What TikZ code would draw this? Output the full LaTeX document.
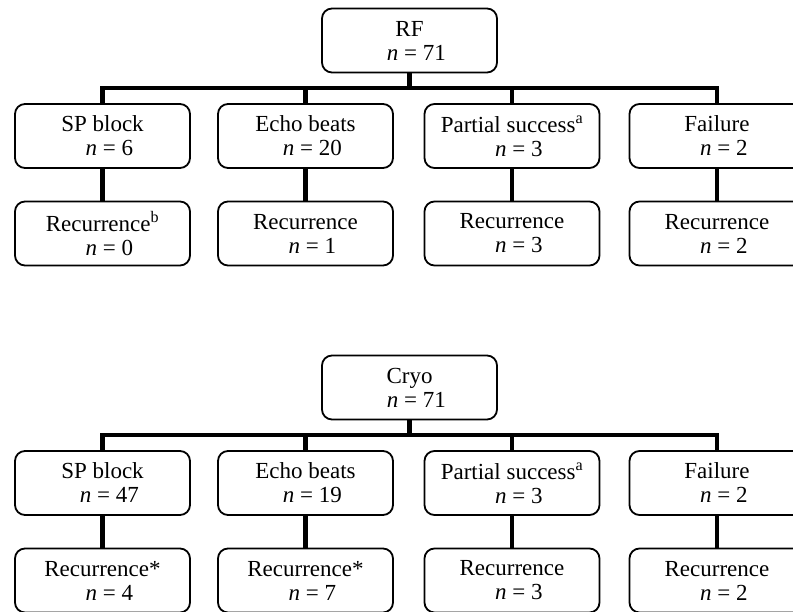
\documentclass[tikz,border=0pt]{standalone}
\usepackage{fontspec}
\setmainfont{Liberation Serif}

\tikzset{
  caja/.style={draw, rounded corners=10pt, line width=1.8pt, minimum width=175pt,
    minimum height=64pt, inner sep=0pt, align=center, font=\fontsize{23}{24}\selectfont},
  rama/.style={line width=4.5pt}
}
\newcommand{\nval}[1]{\hspace*{0.6em}{\itshape n}~=~#1}
% one tree: prefix, vertical offset, root label, children
\newcommand{\arbol}[4]{%
  \begin{scope}[shift={(0,#2)}]
    \node[caja] (#1) at (409.5,40.5) {#3\\\nval{71}};
    \coordinate (#1barra) at (409.5,88);
    \foreach \i/\x/\tipo/\nt/\rec/\nr in {#4} {
      \node[caja] (#1\i) at (\x,136) {\tipo\\\nval{\nt}};
      \node[caja] (#1r\i) at (\x,233.5) {\rec\\\nval{\nr}};
      \draw[rama] (#1\i.north) -- (#1\i.north |- #1barra);
      \draw[rama] (#1\i.south) -- (#1r\i.north);
    }
    \draw[rama] (#1.south) -- (#1barra);
    \draw[rama] (#11.north) |- (#1barra) -| (#14.north);
  \end{scope}}

\begin{document}
\begin{tikzpicture}[x=1pt, y=-1pt]
  \useasboundingbox (0,0) rectangle (793,611);
  \clip (0,0) rectangle (793,611);
  \arbol{rf}{0}{RF}{1/102.5/SP block/6/Recurrence\textsuperscript{b}/0,
      2/305.5/Echo beats/20/Recurrence/1,
      3/512/Partial success\textsuperscript{a}/3/Recurrence/3,
      4/717/Failure/2/Recurrence/2}
  \arbol{cryo}{347}{Cryo}{1/102.5/SP block/47/Recurrence*/4,
      2/305.5/Echo beats/19/Recurrence*/7,
      3/512/Partial success\textsuperscript{a}/3/Recurrence/3,
      4/717/Failure/2/Recurrence/2}
\end{tikzpicture}
\end{document}
